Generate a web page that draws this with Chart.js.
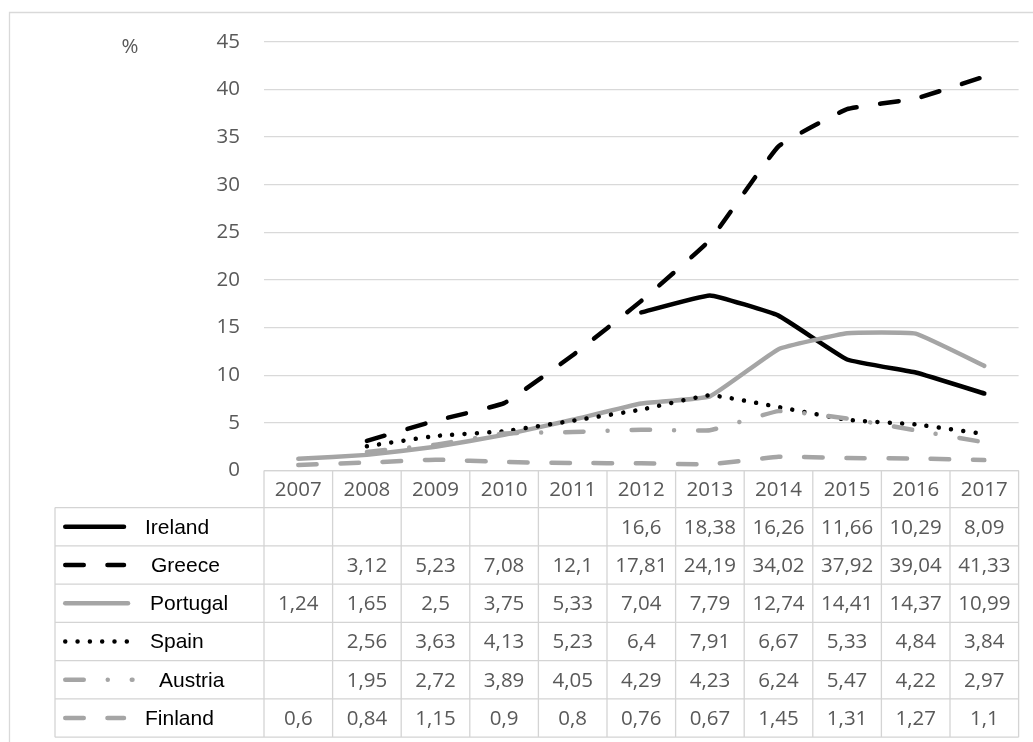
<!DOCTYPE html>
<html><head><meta charset="utf-8">
<script src="https://cdn.jsdelivr.net/npm/chart.js@4"></script>
<style>html,body{margin:0;padding:0;background:#fff;overflow:hidden}canvas{display:block}</style>
</head><body><canvas id="c" width="1033" height="742"></canvas>
<script>
const years = ['2007','2008','2009','2010','2011','2012','2013','2014','2015','2016','2017'];
const seriesNames = ['Ireland','Greece','Portugal','Spain','Austria','Finland'];
const ireland  = [null,null,null,null,null,16.6,18.38,16.26,11.66,10.29,8.09];
const greece   = [null,3.12,5.23,7.08,12.1,17.81,24.19,34.02,37.92,39.04,41.33];
const portugal = [1.24,1.65,2.5,3.75,5.33,7.04,7.79,12.74,14.41,14.37,10.99];
const spain    = [null,2.56,3.63,4.13,5.23,6.4,7.91,6.67,5.33,4.84,3.84];
const austria  = [null,1.95,2.72,3.89,4.05,4.29,4.23,6.24,5.47,4.22,2.97];
const finland  = [0.6,0.84,1.15,0.9,0.8,0.76,0.67,1.45,1.31,1.27,1.1];
const yTickValues = [0,5,10,15,20,25,30,35,40,45];
const unitLabel = '%';

const seriesValues = [ireland, greece, portugal, spain, austria, finland];
const BLACK = '#000000', GRAY = '#a5a5a5';
const styles = [
  {color: BLACK, dash: []},
  {color: BLACK, dash: [18.5, 23.7]},
  {color: GRAY,  dash: []},
  {color: BLACK, dash: [0.01, 12.3]},
  {color: GRAY,  dash: [18.5, 24, 0.01, 24]},
  {color: GRAY,  dash: [18.5, 23.7]}
];
const LW = 4.5;
const NUMFONT = '20.5px "Open Sans"';
const NAMEFONT = '21px "Liberation Sans"';
const fmt = v => (v === null || v === undefined) ? '' : String(v).replace('.', ',');

const datasets = seriesNames.map((name, i) => ({
  label: name,
  data: seriesValues[i],
  borderColor: styles[i].color,
  backgroundColor: styles[i].color,
  borderWidth: LW,
  borderDash: styles[i].dash,
  borderCapStyle: 'round',
  borderJoinStyle: 'round',
  pointRadius: 0,
  pointHoverRadius: 0,
  tension: 0.1,
  fill: false,
  spanGaps: false,
  order: seriesNames.length - 1 - i
}));

const tablePlugin = {
  id: 'dataTable',
  afterDraw(chart) {
    const ctx = chart.ctx, xs = chart.scales.x, ca = chart.chartArea;
    const n = years.length;
    const colW = (ca.right - ca.left) / n;
    const top = ca.bottom;
    const headB = top + 37;
    const rowH = 38.27;
    const bottom = headB + rowH * seriesNames.length;
    const legL = 55;
    ctx.save();
    // outer chart border
    ctx.strokeStyle = '#d9d9d9';
    ctx.lineWidth = 1.3;
    ctx.beginPath();
    ctx.moveTo(9.5, 742); ctx.lineTo(9.5, 12.5); ctx.lineTo(1033, 12.5);
    ctx.stroke();
    // unit label
    ctx.fillStyle = '#595959';
    ctx.font = NUMFONT;
    ctx.textAlign = 'center';
    ctx.textBaseline = 'middle';
    ctx.fillText(unitLabel, 130, 47);
    // table grid
    ctx.strokeStyle = '#d4d4d4';
    ctx.lineWidth = 1.3;
    ctx.beginPath();
    ctx.moveTo(ca.left, top); ctx.lineTo(ca.right, top);
    for (let r = 0; r <= seriesNames.length; r++) {
      const y = headB + r * rowH;
      ctx.moveTo(legL, y); ctx.lineTo(ca.right, y);
    }
    ctx.moveTo(legL, headB); ctx.lineTo(legL, bottom);
    for (let k = 0; k <= n; k++) {
      const x = ca.left + k * colW;
      ctx.moveTo(x, top); ctx.lineTo(x, bottom);
    }
    ctx.stroke();
    // header years
    ctx.fillStyle = '#595959';
    ctx.font = NUMFONT;
    ctx.textAlign = 'center';
    ctx.textBaseline = 'middle';
    years.forEach((yr, i) => {
      ctx.fillText(yr, xs.getPixelForValue(i), (top + headB) / 2 + 1);
    });
    // rows
    const nameX = [145, 151, 150, 150, 159, 145];
    seriesNames.forEach((name, r) => {
      const cy = headB + r * rowH + rowH / 2;
      // values
      ctx.fillStyle = '#595959';
      ctx.font = NUMFONT;
      ctx.textAlign = 'center';
      seriesValues[r].forEach((v, i) => {
        const s = fmt(v);
        if (s) ctx.fillText(s, xs.getPixelForValue(i), cy + 1);
      });
      // legend key
      const st = styles[r];
      ctx.save();
      ctx.strokeStyle = st.color;
      ctx.lineWidth = LW;
      ctx.lineCap = 'round';
      ctx.setLineDash(st.dash);
      ctx.beginPath();
      const x0 = 65.25;
      const x1 = (r === 2) ? 128 : (r === 3 ? 128.5 : (r === 4 ? 132.5 : 124));
      ctx.moveTo(x0, cy); ctx.lineTo(x1, cy);
      ctx.stroke();
      ctx.restore();
      // name
      ctx.fillStyle = '#000000';
      ctx.font = NAMEFONT;
      ctx.textAlign = 'left';
      ctx.fillText(name, nameX[r], cy + 1);
    });
    ctx.restore();
  }
};

new Chart(document.getElementById('c'), {
  type: 'line',
  data: {labels: years, datasets},
  options: {
    responsive: false,
    animation: false,
    events: [],
    layout: {padding: {top: 41.7, bottom: 742 - 470.6, left: 0, right: 1033 - 1018.6}},
    plugins: {legend: {display: false}, tooltip: {enabled: false}, title: {display: false}},
    scales: {
      x: {display: false, offset: true},
      y: {
        min: 0, max: 45,
        afterFit(scale) { scale.width = 264; },
        afterBuildTicks(scale) { scale.ticks = yTickValues.map(v => ({value: v})); },
        border: {display: false},
        grid: {color: '#d9d9d9', lineWidth: 1.3, drawTicks: false},
        ticks: {
          color: '#595959',
          font: {family: 'Open Sans', size: 20.5},
          padding: 24,
          callback: v => String(v)
        }
      }
    }
  },
  plugins: [tablePlugin]
});
</script>
</body></html>
